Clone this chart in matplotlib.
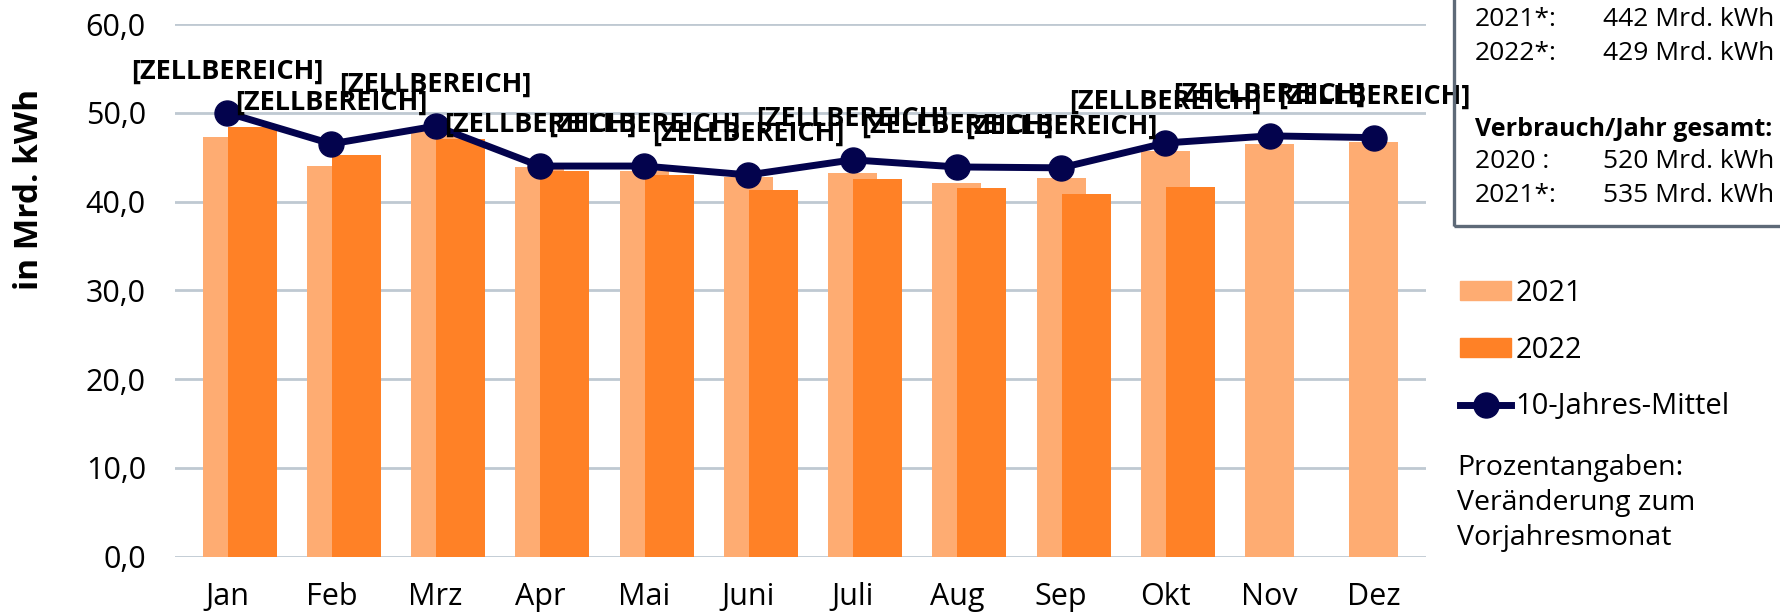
import matplotlib.pyplot as plt
import numpy as np
from matplotlib.patches import Patch, Rectangle
from matplotlib.lines import Line2D
from matplotlib.ticker import FuncFormatter

plt.rcParams['font.family'] = ['Open Sans', 'DejaVu Sans']

# Monthly consumption in Mrd. kWh
months = ['Jan', 'Feb', 'Mrz', 'Apr', 'Mai', 'Juni', 'Juli', 'Aug', 'Sep', 'Okt', 'Nov', 'Dez']
verbrauch_2021 = [47.3, 44.0, 47.9, 43.9, 43.4, 42.8, 43.2, 42.1, 42.6, 45.7, 46.5, 46.7]
verbrauch_2022 = [48.4, 45.2, 47.0, 43.4, 43.0, 41.3, 42.5, 41.5, 40.8, 41.6]
mittel_10j = [50.0, 46.5, 48.5, 44.0, 44.0, 43.0, 44.7, 43.9, 43.8, 46.6, 47.4, 47.2]
punkt_labels = ['[ZELLBEREICH]'] * 12

c_2021 = '#FEAC72'
c_2022 = '#FF8126'
c_line = '#03034D'
c_grid = '#BFC9D2'

fig = plt.figure(figsize=(17.81, 6.12), dpi=100)
ax = fig.add_axes([175 / 1781, 1 - 556.7 / 612, 1251 / 1781, 532.7 / 612])

x = np.arange(len(months))
w = 0.47
ax.bar(x, verbrauch_2021, w, color=c_2021, zorder=2)
ax.bar(x[:len(verbrauch_2022)] + 0.24, verbrauch_2022, w, color=c_2022, zorder=3)
ax.plot(x, mittel_10j, color=c_line, lw=5, marker='o', ms=18, zorder=4, clip_on=False)

for xi, yi, txt in zip(x, mittel_10j, punkt_labels):
    ax.annotate(txt, (xi, yi), xytext=(0, 41), textcoords='offset pixels',
                ha='center', va='center', fontsize=19.5, fontweight='bold', zorder=6)

ax.set_xlim(-0.5, 11.5)
ax.set_ylim(0, 60)
ax.set_yticks(np.arange(0, 61, 10))
ax.yaxis.set_major_formatter(FuncFormatter(lambda v, p: f'{v:.1f}'.replace('.', ',')))
ax.set_xticks(x)
ax.set_xticklabels(months)
ax.tick_params(axis='both', length=0, labelsize=22)
ax.tick_params(axis='y', pad=21)
ax.tick_params(axis='x', pad=18.5)
ax.grid(axis='y', color=c_grid, lw=2, zorder=0)
ax.set_axisbelow(True)
for s in ax.spines.values():
    s.set_visible(False)

fig.text(30 / 1781, 1 - 189 / 612, 'in Mrd. kWh', rotation=90, ha='center', va='center',
         fontsize=24, fontweight='bold')

# info box top right
box = Rectangle((1454 / 1781, 1 - 226 / 612), 0.2, 0.5, transform=fig.transFigure,
                fill=False, edgecolor='#5E6A78', lw=2.4, zorder=1)
fig.patches.append(box)
rows = [('2021*:', '442 Mrd. kWh', 20), ('2022*:', '429 Mrd. kWh', 54),
        ('2020 :', '520 Mrd. kWh', 161), ('2021*:', '535 Mrd. kWh', 196)]
for a, b, yy in rows:
    fig.text(1475 / 1781, 1 - yy / 612, a, ha='left', va='center', fontsize=19)
    fig.text(1603 / 1781, 1 - yy / 612, b, ha='left', va='center', fontsize=19)
fig.text(1475 / 1781, 1 - 129 / 612, 'Verbrauch/Jahr gesamt:', ha='left', va='center',
         fontsize=18, fontweight='bold')

handles = [Patch(color=c_2021, label='2021'), Patch(color=c_2022, label='2022'),
           Line2D([], [], color=c_line, lw=5, marker='o', ms=18, label='10-Jahres-Mittel')]
fig.legend(handles=handles, loc='upper left', bbox_to_anchor=(1460 / 1781, 1 - 279 / 612),
           frameon=False, fontsize=21, handlelength=1.75, handleheight=0.6,
           handletextpad=0.15, labelspacing=0.95, borderpad=0, borderaxespad=0)

fig.text(1457 / 1781, 1 - 503 / 612, 'Prozentangaben:\nVeränderung zum\nVorjahresmonat',
         ha='left', va='center', fontsize=20.5, linespacing=1.33)

fig.savefig('out.png', dpi=100)
